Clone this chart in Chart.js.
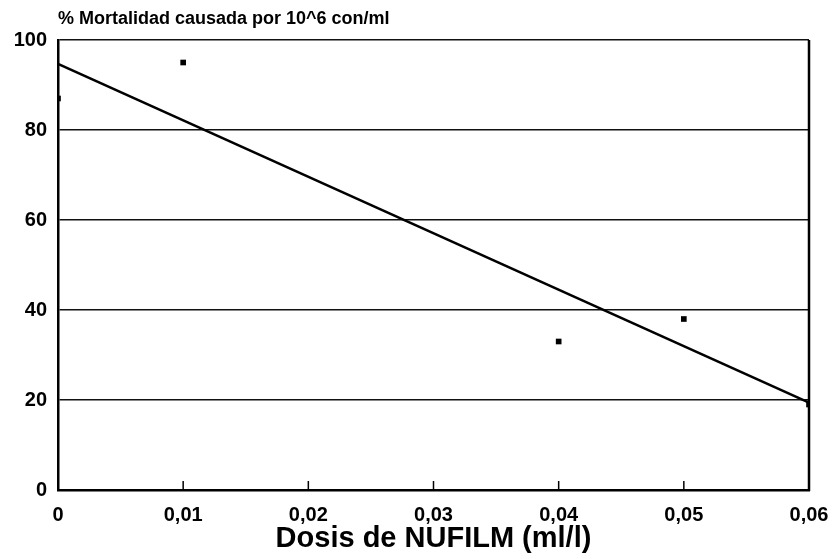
<!DOCTYPE html>
<html>
<head>
<meta charset="utf-8">
<script src="https://cdn.jsdelivr.net/npm/chart.js@4/dist/chart.umd.min.js"></script>
<style>
html,body{margin:0;padding:0;background:#fff;}
canvas{display:block;}
</style>
</head>
<body>
<canvas id="c" width="837" height="559"></canvas>
<script>
const chartTitle = "% Mortalidad causada por 10^6 con/ml";
const xAxisTitle = "Dosis de NUFILM (ml/l)";
const doses = [0, 0.01, 0.04, 0.05, 0.06];
const mortality = [87, 95, 33, 38, 19];
const fitDoses = [0, 0.06];
const fitMortality = [94.7, 19.4];
const xTicks = [0, 0.01, 0.02, 0.03, 0.04, 0.05, 0.06];
const yTicks = [0, 20, 40, 60, 80, 100];

const FONT = "'Liberation Sans', Arial, Helvetica, sans-serif";

const pointData = doses.map((x, i) => ({x: x, y: mortality[i]}));
const fitData = fitDoses.map((x, i) => ({x: x, y: fitMortality[i]}));

const frame = {
  id: 'frame',
  afterDraw(chart) {
    const ctx = chart.ctx;
    const a = chart.chartArea;
    const xs = chart.scales.x;
    ctx.save();
    ctx.strokeStyle = '#000';
    // right border
    ctx.lineWidth = 2.5;
    ctx.beginPath();
    ctx.moveTo(a.right, a.top);
    ctx.lineTo(a.right, a.bottom + 1);
    ctx.stroke();
    // inner tick marks on x axis
    ctx.lineWidth = 1.5;
    xTicks.slice(1, -1).forEach(v => {
      const px = xs.getPixelForValue(v);
      ctx.beginPath();
      ctx.moveTo(px, a.bottom);
      ctx.lineTo(px, a.bottom - 9);
      ctx.stroke();
    });
    // top title
    ctx.fillStyle = '#000';
    ctx.font = "bold 18px " + FONT;
    ctx.textBaseline = 'middle';
    ctx.textAlign = 'left';
    ctx.fillText(chartTitle, a.left, 19);
    ctx.restore();
  }
};

new Chart(document.getElementById('c'), {
  type: 'scatter',
  data: {
    datasets: [
      {
        label: 'fit',
        data: fitData,
        showLine: true,
        borderColor: '#000',
        borderWidth: 2.5,
        pointRadius: 0,
        fill: false
      },
      {
        label: 'datos',
        data: pointData,
        pointStyle: 'rect',
        pointRadius: 4,
        backgroundColor: '#000',
        borderColor: '#000',
        borderWidth: 0
      }
    ]
  },
  options: {
    responsive: false,
    animation: false,
    layout: {padding: {top: 40, right: 28, bottom: 0, left: 0}},
    plugins: {legend: {display: false}, tooltip: {enabled: false}, title: {display: false}},
    scales: {
      x: {
        type: 'linear',
        min: 0,
        max: 0.06,
        afterFit(s) { s.height = 69; s.paddingRight = 0; s.paddingLeft = 0; },
        afterBuildTicks(s) { s.ticks = xTicks.map(v => ({value: v})); },
        grid: {display: true, drawOnChartArea: false, drawTicks: false},
        border: {display: true, color: '#000', width: 2.5},
        ticks: {
          color: '#000',
          padding: 13,
          maxRotation: 0,
          font: {family: FONT, size: 20, weight: 'bold'},
          callback: v => v === 0 ? '0' : v.toFixed(2).replace('.', ',')
        },
        title: {
          display: true,
          text: xAxisTitle,
          color: '#000',
          padding: {top: 0, bottom: 3},
          font: {family: FONT, size: 29, weight: 'bold'}
        }
      },
      y: {
        type: 'linear',
        min: 0,
        max: 100,
        afterFit(s) { s.width = 58; s.paddingTop = 0; s.paddingBottom = 0; },
        afterBuildTicks(s) { s.ticks = yTicks.map(v => ({value: v})); },
        grid: {display: true, color: '#111', lineWidth: 1.5, drawTicks: false},
        border: {display: true, color: '#000', width: 2.5},
        ticks: {
          color: '#000',
          padding: 11,
          font: {family: FONT, size: 20, weight: 'bold'}
        }
      }
    }
  },
  plugins: [frame]
});
</script>
</body>
</html>
